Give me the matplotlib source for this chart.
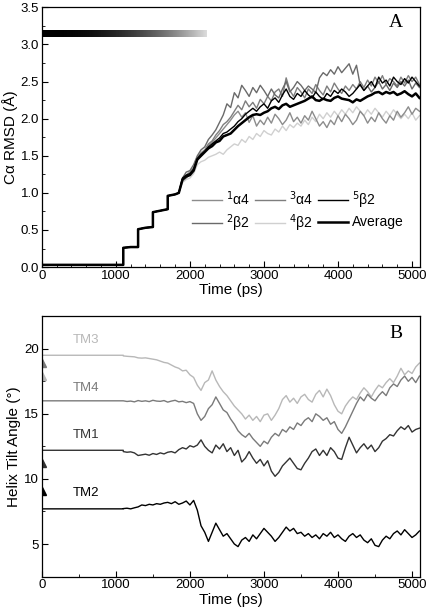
import numpy as np
import matplotlib
matplotlib.use("Agg")
import matplotlib.pyplot as plt
from matplotlib.ticker import MultipleLocator
from matplotlib.colors import LinearSegmentedColormap

plt.rcParams['font.family'] = ['Liberation Sans', 'DejaVu Sans']

# ---- panel A data: C-alpha RMSD ----
# shared stepped restraint-release segment (time ps, RMSD A)
step_t = [0, 1100, 1100, 1200, 1300, 1300, 1400, 1500, 1500, 1600, 1700, 1700, 1800, 1850]
step_v = [0.03, 0.03, 0.26, 0.27, 0.27, 0.51, 0.53, 0.54, 0.74, 0.76, 0.78, 0.96, 0.98, 1.00]

t_a = np.arange(1900, 5101, 50)

rmsd_a1 = [1.16, 1.20, 1.25, 1.32, 1.44, 1.50, 1.56, 1.64, 1.68, 1.74,
           1.80, 1.86, 1.92, 1.98, 2.05, 2.10, 2.02, 2.08, 1.95, 2.04,
           1.90, 1.98, 1.92, 2.02, 1.94, 2.06, 2.00, 1.92, 1.98, 2.08,
           1.96, 2.02, 1.94, 2.04, 1.98, 2.10, 2.00, 1.90, 1.96, 1.88,
           1.98, 1.92, 2.04, 1.96, 2.06, 2.00, 1.92, 1.98, 2.10, 2.04,
           1.94, 2.02, 1.96, 2.08, 2.00, 1.94, 2.04, 1.98, 2.10, 2.02,
           2.08, 2.16, 2.06, 2.14, 2.10]
rmsd_b2 = [1.20, 1.28, 1.30, 1.38, 1.50, 1.58, 1.62, 1.72, 1.78, 1.85,
           1.95, 2.05, 2.20, 2.15, 2.35, 2.28, 2.45, 2.38, 2.30, 2.42,
           2.35, 2.45, 2.38, 2.30, 2.40, 2.32, 2.28, 2.40, 2.50, 2.36,
           2.42, 2.50, 2.45, 2.38, 2.44, 2.40, 2.35, 2.55, 2.62, 2.58,
           2.66, 2.60, 2.70, 2.62, 2.68, 2.74, 2.60, 2.72, 2.45, 2.38,
           2.44, 2.36, 2.42, 2.50, 2.40, 2.46, 2.38, 2.48, 2.42, 2.50,
           2.44, 2.52, 2.40, 2.48, 2.42]
rmsd_a3 = [1.18, 1.24, 1.28, 1.34, 1.48, 1.54, 1.58, 1.66, 1.70, 1.78,
           1.84, 1.92, 1.96, 2.02, 2.10, 2.18, 2.12, 2.24, 2.16, 2.22,
           2.14, 2.26, 2.20, 2.30, 2.24, 2.36, 2.40, 2.30, 2.55, 2.38,
           2.30, 2.42, 2.36, 2.28, 2.40, 2.34, 2.46, 2.38, 2.32, 2.44,
           2.36, 2.48, 2.40, 2.34, 2.44, 2.38, 2.46, 2.40, 2.50, 2.42,
           2.52, 2.44, 2.56, 2.48, 2.58, 2.46, 2.54, 2.50, 2.44, 2.56,
           2.48, 2.58, 2.50, 2.56, 2.46]
rmsd_b4 = [1.14, 1.18, 1.20, 1.26, 1.38, 1.42, 1.44, 1.48, 1.50, 1.52,
           1.55, 1.52, 1.58, 1.62, 1.66, 1.64, 1.72, 1.68, 1.76, 1.72,
           1.80, 1.76, 1.84, 1.80, 1.78, 1.86, 1.82, 1.90, 1.84, 1.92,
           1.88, 1.94, 1.90, 1.98, 1.92, 2.02, 1.96, 2.06, 2.00, 2.08,
           2.02, 2.10, 2.04, 2.12, 2.06, 2.14, 2.08, 2.16, 2.10, 2.04,
           2.12, 2.06, 2.14, 2.08, 2.02, 2.10, 2.04, 2.12, 2.06, 2.00,
           2.06, 2.00, 2.08, 1.98, 2.04]
rmsd_b5 = [1.20, 1.24, 1.26, 1.32, 1.46, 1.52, 1.56, 1.62, 1.66, 1.70,
           1.74, 1.80, 1.82, 1.86, 1.90, 1.96, 2.00, 2.06, 2.10, 2.14,
           2.10, 2.16, 2.20, 2.14, 2.24, 2.28, 2.22, 2.32, 2.40, 2.30,
           2.26, 2.34, 2.30, 2.38, 2.32, 2.28, 2.36, 2.30, 2.26, 2.34,
           2.30, 2.38, 2.34, 2.40, 2.36, 2.30, 2.34, 2.40, 2.46, 2.38,
           2.44, 2.50, 2.42, 2.56, 2.48, 2.52, 2.44, 2.56, 2.50, 2.46,
           2.54, 2.48, 2.56, 2.50, 2.44]
rmsd_avg = [1.18, 1.22, 1.24, 1.30, 1.45, 1.50, 1.55, 1.60, 1.63, 1.68,
            1.70, 1.76, 1.78, 1.80, 1.85, 1.90, 1.94, 1.98, 2.02, 2.05,
            2.06, 2.05, 2.08, 2.10, 2.14, 2.16, 2.13, 2.18, 2.20, 2.16,
            2.18, 2.20, 2.22, 2.24, 2.27, 2.30, 2.25, 2.24, 2.27, 2.25,
            2.24, 2.28, 2.30, 2.27, 2.26, 2.25, 2.22, 2.26, 2.24, 2.27,
            2.30, 2.32, 2.35, 2.36, 2.33, 2.36, 2.34, 2.36, 2.32, 2.34,
            2.37, 2.33, 2.30, 2.34, 2.28]

# ---- panel B data: helix tilt angles ----
t_b = np.arange(1100, 5101, 50)
tm3 = [19.45, 19.42, 19.40, 19.38, 19.30, 19.28, 19.30, 19.25, 19.20, 19.15,
       19.05, 18.95, 18.90, 18.75, 18.60, 18.50, 18.30, 18.35, 18.00, 17.80,
       17.20, 16.80, 17.40, 17.60, 18.30, 17.60, 17.10, 16.70, 16.40, 16.00,
       15.60, 15.30, 15.00, 14.60, 14.90, 14.50, 14.80, 14.40, 14.90, 15.00,
       14.50, 14.90, 15.40, 16.10, 16.40, 15.90, 16.20, 15.80, 16.30, 16.50,
       16.10, 15.90, 16.50, 16.80, 16.30, 16.90, 16.40, 15.70, 15.20, 15.00,
       15.60, 16.00, 16.30, 16.10, 16.60, 17.00, 16.70, 16.30, 16.80, 17.20,
       17.00, 17.40, 17.70, 17.40, 17.90, 18.50, 18.00, 18.30, 18.10, 18.60,
       18.90]
tm4 = [16.00, 15.95, 15.98, 15.92, 16.02, 15.96, 16.00, 15.94, 16.04, 15.98,
       15.96, 16.02, 15.90, 15.98, 16.04, 15.92, 15.96, 15.86, 15.94, 15.80,
       15.00, 14.50, 14.80, 15.40, 15.70, 16.30, 15.80, 15.30, 15.10, 14.60,
       14.20, 13.70, 13.40, 13.20, 13.50, 13.10, 12.80, 12.50, 12.90, 12.70,
       13.20, 13.50, 13.30, 13.80, 13.60, 14.00, 13.80, 14.30, 14.10, 14.50,
       14.70, 14.40, 15.00, 14.80, 14.50, 14.70, 14.20, 14.40, 13.80, 13.50,
       14.00, 14.60, 15.20, 15.80, 16.30, 16.00, 16.50, 16.20, 16.00, 16.40,
       16.70, 16.40, 17.00, 17.30, 17.10, 17.60, 17.90, 17.50, 17.80, 17.40,
       17.90]
tm1 = [12.10, 12.05, 12.08, 12.00, 11.80, 11.85, 11.90, 11.82, 11.95, 11.88,
       12.00, 11.92, 12.05, 12.10, 12.00, 12.25, 12.40, 12.30, 12.55, 12.45,
       12.60, 13.00, 12.50, 12.20, 12.00, 12.60, 12.30, 12.70, 12.10, 12.40,
       11.80, 12.20, 11.30, 11.60, 12.10, 11.60, 11.20, 11.50, 11.00, 11.40,
       10.60, 10.20, 10.50, 11.00, 11.30, 11.60, 11.20, 10.80, 10.70, 11.20,
       11.60, 12.10, 12.30, 11.80, 12.20, 11.80, 12.40, 12.10, 11.60, 11.50,
       12.40, 13.20, 12.60, 12.00, 12.40, 12.70, 12.30, 12.60, 12.10, 12.40,
       12.90, 13.10, 13.40, 13.30, 13.70, 14.00, 13.80, 14.10, 13.60, 13.80,
       13.90]
tm2 = [7.72, 7.75, 7.70, 7.78, 7.85, 8.00, 7.95, 8.05, 8.00, 8.10,
       8.05, 8.15, 8.20, 8.10, 8.25, 8.05, 8.15, 8.30, 8.00, 8.35,
       7.60, 6.40, 5.90, 5.20, 5.90, 6.60, 6.10, 5.60, 5.80, 5.40,
       5.00, 4.80, 5.30, 5.50, 5.20, 5.70, 5.40, 5.80, 6.20, 5.90,
       5.60, 5.20, 5.50, 5.90, 6.30, 6.00, 6.20, 5.80, 5.90, 5.60,
       5.80, 5.50, 5.70, 5.40, 5.80, 5.60, 5.90, 5.50, 5.70, 5.40,
       5.20, 5.60, 5.80, 5.50, 5.70, 5.30, 5.10, 5.40, 4.90, 4.80,
       5.30, 5.60, 5.40, 5.80, 6.00, 5.70, 6.10, 5.80, 5.50, 5.70,
       6.00]
# starting (initial model) tilt values
tm_start = {'TM3': 19.5, 'TM4': 16.0, 'TM1': 12.2, 'TM2': 7.7}
ref_tilts = [18.9, 17.9, 11.2, 9.1]
ref_colors = ['#7a7a7a', '#b8b8b8', '#333333', '#000000']

fig = plt.figure(figsize=(4.27, 6.14), dpi=100)
ax1 = fig.add_axes([0.098, 0.565, 0.886, 0.423])
ax2 = fig.add_axes([0.098, 0.061, 0.886, 0.424])

# panel A
cmap = LinearSegmentedColormap.from_list('bar', ['black', '#dcdcdc'])
grad = np.linspace(0, 1, 256)[None, :] ** 2.2
ax1.imshow(grad, extent=[0, 2220, 3.10, 3.19], aspect='auto', cmap=cmap,
           vmin=0, vmax=1, zorder=1)

series = [
    (rmsd_b4, '#d0d0d0', 1.0, '$^4$β2'),
    (rmsd_a1, '#8c8c8c', 1.0, '$^1$α4'),
    (rmsd_a3, '#7e7e7e', 1.0, '$^3$α4'),
    (rmsd_b2, '#6a6a6a', 1.0, '$^2$β2'),
    (rmsd_b5, '#000000', 1.0, '$^5$β2'),
    (rmsd_avg, '#000000', 1.8, 'Average'),
]
handles = {}
for vals, col, lw, lab in series:
    x = np.concatenate([step_t, t_a])
    y = np.concatenate([step_v, vals])
    ln, = ax1.plot(x, y, color=col, lw=lw, label=lab, zorder=2)
    handles[lab] = ln

order = ['$^1$α4', '$^2$β2', '$^3$α4', '$^4$β2', '$^5$β2', 'Average']
ax1.legend([handles[k] for k in order], order, ncol=3, frameon=False,
           loc='lower left', bbox_to_anchor=(0.37, 0.09), fontsize=10,
           handlelength=2.2, handletextpad=0.3, columnspacing=0.3,
           labelspacing=0.35, borderpad=0.2)

ax1.set_xlim(0, 5110)
ax1.set_ylim(0, 3.5)
ax1.xaxis.set_major_locator(MultipleLocator(1000))
ax1.xaxis.set_minor_locator(MultipleLocator(200))
ax1.yaxis.set_major_locator(MultipleLocator(0.5))
ax1.yaxis.set_minor_locator(MultipleLocator(0.25))
ax1.yaxis.set_major_formatter(matplotlib.ticker.FormatStrFormatter('%.1f'))
ax1.set_xlabel('Time (ps)', fontsize=11, labelpad=1)
ax1.set_ylabel('Cα RMSD (Å)', fontsize=11, labelpad=2)
ax1.text(0.935, 0.94, 'A', transform=ax1.transAxes, fontsize=14,
         family='Liberation Serif', ha='center', va='center')

# panel B
tm_series = [
    ('TM3', tm3, '#b8b8b8', 20.66),
    ('TM4', tm4, '#7a7a7a', 16.95),
    ('TM1', tm1, '#333333', 13.35),
    ('TM2', tm2, '#000000', 8.95),
]
for name, vals, col, ylab in tm_series:
    x = np.concatenate([[0, 1100], t_b])
    y = np.concatenate([[tm_start[name], tm_start[name]], vals])
    ax2.plot(x, y, color=col, lw=1.0)
    ax2.text(420, ylab, name, color=col, fontsize=9.5, ha='left', va='center')
for v, c in zip(ref_tilts, ref_colors):
    ax2.plot([0], [v], marker='^', color=c, ms=6, ls='none', clip_on=True)

ax2.set_xlim(0, 5110)
ax2.set_ylim(2.5, 22.5)
ax2.xaxis.set_major_locator(MultipleLocator(1000))
ax2.xaxis.set_minor_locator(MultipleLocator(500))
ax2.yaxis.set_major_locator(MultipleLocator(5))
ax2.yaxis.set_minor_locator(MultipleLocator(2.5))
ax2.set_xlabel('Time (ps)', fontsize=11, labelpad=1)
ax2.set_ylabel('Helix Tilt Angle (°)', fontsize=11, labelpad=2)
ax2.text(0.935, 0.935, 'B', transform=ax2.transAxes, fontsize=14,
         family='Liberation Serif', ha='center', va='center')

for ax in (ax1, ax2):
    ax.tick_params(which='both', direction='in', top=False, right=False,
                   labelsize=9.5, pad=2)
    ax.tick_params(which='major', length=4, width=0.8)
    ax.tick_params(which='minor', length=2, width=0.6)
    for s in ax.spines.values():
        s.set_linewidth(0.9)

fig.savefig('out.png', dpi=100)
